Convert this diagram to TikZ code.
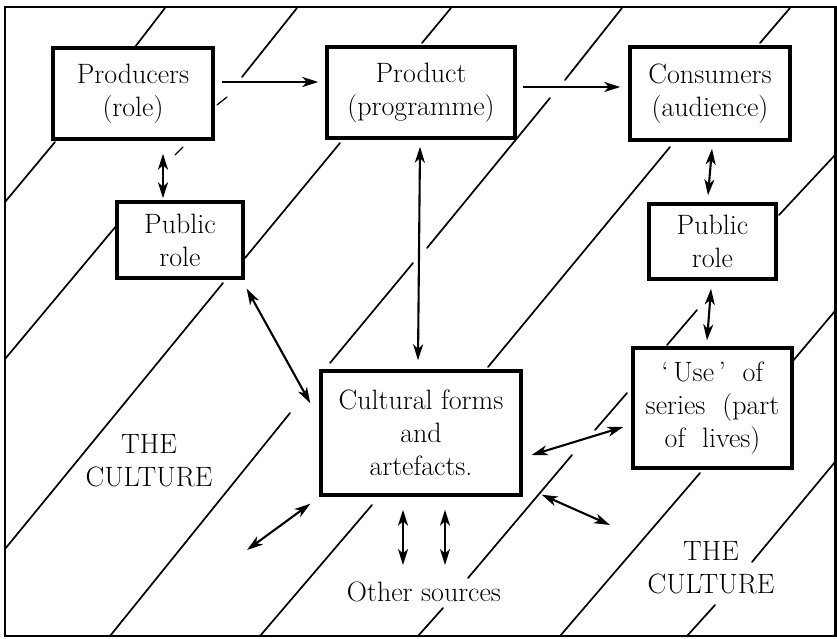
\documentclass[tikz,border=0pt]{standalone}
\usepackage{fontspec}
\usetikzlibrary{arrows.meta}
\newcommand{\bigfs}{\fontsize{28}{33}\selectfont}
\tikzset{
  box/.style={draw, line width=3.4pt, fill=white, inner sep=0pt, align=center, font=\bigfs},
  txt/.style={inner sep=0pt, align=center, font=\bigfs},
  hatch/.style={line width=1.7pt, line cap=round},
  faint/.style={line width=1.3pt, line cap=round},
  frame/.style={line width=2.5pt},
  tip/.tip={Stealth[length=16pt,width=10pt,inset=4.5pt]},
  arr/.style={line width=2.1pt, -tip},
  dbl/.style={line width=2.1pt, tip-tip}
}
\begin{document}
\begin{tikzpicture}[x=1pt,y=-1pt]
\useasboundingbox (0,0) rectangle (837,639);
\fill[white] (0,0) rectangle (837,639);
% frame
\draw[frame] (5,7) rectangle (835.5,636);
% hatch lines
\draw[hatch] (165,8) -- (135,47);
\draw[hatch] (55,142) -- (5,202);
\draw[hatch] (297,8) -- (242,77);
\draw[faint] (227,97) -- (217,105);
\draw[faint] (183,147) -- (175,155);
\draw[hatch] (117,225) -- (5,359);
\draw[hatch] (451,8) -- (422,43);
\draw[hatch] (340,143) -- (245,258);
\draw[hatch] (223,283) -- (5,549);
\draw[hatch] (622,8) -- (565,80);
\draw[hatch] (550,98) -- (427,248);
\draw[hatch] (413,263) -- (330,363);
\draw[hatch] (290,413) -- (110,636);
\draw[hatch] (790,8) -- (760,43);
\draw[hatch] (670,147) -- (488,367);
\draw[hatch] (372,505) -- (260,636);
\draw[hatch] (835,155) -- (779,215);
\draw[hatch] (697,310) -- (667,345);
\draw[hatch] (627,393) -- (595,430);
\draw[hatch] (572,455) -- (468,578);
\draw[hatch] (443,608) -- (418,636);
\draw[hatch] (835,311) -- (792,362);
\draw[hatch] (700,473) -- (560,636);
\draw[hatch] (835,462) -- (752,562);
\draw[hatch] (715,605) -- (687,636);
% boxes
\node[box, minimum width=160pt, minimum height=91pt] (prod) at (133,93.5) {Producers\\(role)};
\node[box, minimum width=188pt, minimum height=91pt] (prog) at (421,92.5) {Product\\(programme)};
\node[box, minimum width=160pt, minimum height=93pt] (cons) at (710,93.5) {Consumers\\(audience)};
\node[box, minimum width=126pt, minimum height=76pt] (prl) at (180,240) {Public\\role};
\node[box, minimum width=127pt, minimum height=75pt] (prr) at (712.5,241.5) {Public\\role};
\node[box, minimum width=200pt, minimum height=124pt] (cult) at (421,433) {Cultural forms\\and\\artefacts.};
\node[box, minimum width=159pt, minimum height=120pt] (use) at (712.5,408) {\textquoteleft\,Use\,\textquoteright\ \ of\\series \ (part\\of \ lives)};
% texts
\node[txt] (cultl) at (149,461) {THE\\CULTURE};
\node[txt] (cultr) at (711,567.5) {THE\\CULTURE};
\node[txt] (other) at (424,592) {Other sources};
\coordinate (ll) at (247,550);
\coordinate (lr) at (610,525);
% connectors
\draw[arr] ([xshift=7pt,yshift=11.5pt]prod.east) -- ([xshift=-7pt,yshift=10.5pt]prog.west);
\draw[arr] ([xshift=6pt,yshift=5.5pt]prog.east) -- ([xshift=-8pt,yshift=6.5pt]cons.west);
\draw[dbl] ([xshift=30pt,yshift=-13pt]prod.south) -- ([xshift=-17pt,yshift=2pt]prl.north);
\draw[dbl] ([xshift=2pt,yshift=-7pt]cons.south) -- ([xshift=-4.5pt,yshift=7pt]prr.north);
\draw[dbl] ([xshift=-1.5pt,yshift=-8pt]prr.south) -- ([xshift=-5.5pt,yshift=6pt]use.north);
\draw[dbl] ([xshift=-1pt,yshift=-7pt]prog.south) -- ([xshift=-3pt,yshift=9pt]cult.north);
\draw[dbl] ([xshift=2pt,yshift=-9pt]prl.south east) -- ([xshift=-9pt,yshift=-34pt]cult.north west);
\draw[dbl] ([xshift=9pt,yshift=-22pt]cult.east) -- ([xshift=-8pt,yshift=-19pt]use.west);
\draw[dbl] ([xshift=-9pt,yshift=-7pt]cult.south west) -- (ll);
\draw[dbl] ([xshift=19pt,yshift=2pt]cult.south east) -- (lr);
\draw[dbl] ([xshift=-18pt,yshift=-13pt]cult.south) -- ([xshift=-21pt,yshift=27pt]other.center);
\draw[dbl] ([xshift=24pt,yshift=-13pt]cult.south) -- ([xshift=21pt,yshift=27pt]other.center);
\end{tikzpicture}
\end{document}
